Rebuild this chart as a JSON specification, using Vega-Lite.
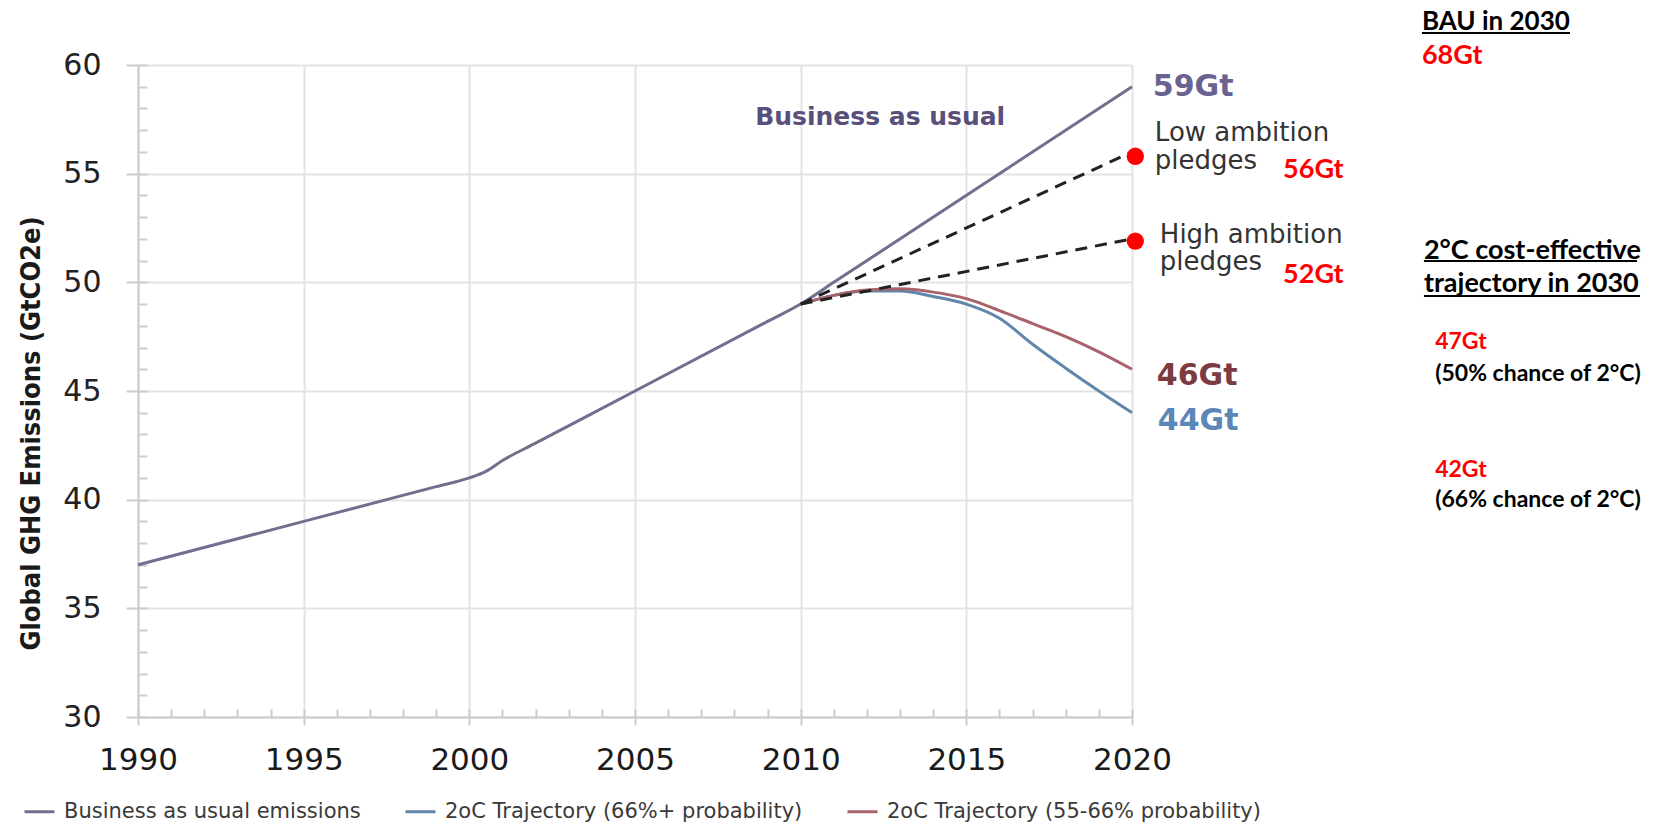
{
  "$schema": "https://vega.github.io/schema/vega-lite/v6.json",
  "width": 994,
  "height": 652,
  "autosize": "none",
  "padding": {"left": 138, "top": 65, "right": 534, "bottom": 110},
  "background": "white",
  "config": {"view": {"stroke": null}, "font": "Open Sans"},
  "datasets": {
    "lines": [
      {"series": "Business as usual emissions", "year": 1990, "value": 37.0},
      {"series": "Business as usual emissions", "year": 1995, "value": 39.0},
      {"series": "Business as usual emissions", "year": 1999, "value": 40.6},
      {"series": "Business as usual emissions", "year": 2000, "value": 41.0},
      {"series": "Business as usual emissions", "year": 2000.5, "value": 41.3},
      {"series": "Business as usual emissions", "year": 2001, "value": 41.8},
      {"series": "Business as usual emissions", "year": 2002, "value": 42.6},
      {"series": "Business as usual emissions", "year": 2005, "value": 45.0},
      {"series": "Business as usual emissions", "year": 2009, "value": 48.2},
      {"series": "Business as usual emissions", "year": 2010, "value": 49.0},
      {"series": "Business as usual emissions", "year": 2011, "value": 50.0},
      {"series": "Business as usual emissions", "year": 2020, "value": 59.0},
      {"series": "2oC Trajectory (66%+ probability)", "year": 2010, "value": 49.0},
      {"series": "2oC Trajectory (66%+ probability)", "year": 2011, "value": 49.4},
      {"series": "2oC Trajectory (66%+ probability)", "year": 2012, "value": 49.6},
      {"series": "2oC Trajectory (66%+ probability)", "year": 2013, "value": 49.6},
      {"series": "2oC Trajectory (66%+ probability)", "year": 2014, "value": 49.35},
      {"series": "2oC Trajectory (66%+ probability)", "year": 2015, "value": 49.0},
      {"series": "2oC Trajectory (66%+ probability)", "year": 2016, "value": 48.35},
      {"series": "2oC Trajectory (66%+ probability)", "year": 2017, "value": 47.15},
      {"series": "2oC Trajectory (66%+ probability)", "year": 2018, "value": 46.05},
      {"series": "2oC Trajectory (66%+ probability)", "year": 2019, "value": 45.0},
      {"series": "2oC Trajectory (66%+ probability)", "year": 2020, "value": 44.0},
      {"series": "2oC Trajectory (55-66% probability)", "year": 2010, "value": 49.0},
      {"series": "2oC Trajectory (55-66% probability)", "year": 2011, "value": 49.4},
      {"series": "2oC Trajectory (55-66% probability)", "year": 2012, "value": 49.65},
      {"series": "2oC Trajectory (55-66% probability)", "year": 2013, "value": 49.7},
      {"series": "2oC Trajectory (55-66% probability)", "year": 2014, "value": 49.55},
      {"series": "2oC Trajectory (55-66% probability)", "year": 2015, "value": 49.25},
      {"series": "2oC Trajectory (55-66% probability)", "year": 2016, "value": 48.7},
      {"series": "2oC Trajectory (55-66% probability)", "year": 2017, "value": 48.1},
      {"series": "2oC Trajectory (55-66% probability)", "year": 2018, "value": 47.5},
      {"series": "2oC Trajectory (55-66% probability)", "year": 2019, "value": 46.8},
      {"series": "2oC Trajectory (55-66% probability)", "year": 2020, "value": 46.0}
    ],
    "pledges": [
      {"pledge": "Low ambition", "year": 2010, "value": 49.0},
      {"pledge": "Low ambition", "year": 2020, "value": 56.0},
      {"pledge": "High ambition", "year": 2010, "value": 49.0},
      {"pledge": "High ambition", "year": 2020, "value": 52.0}
    ],
    "dots": [
      {"pledge": "Low ambition", "year": 2020.1, "value": 55.8},
      {"pledge": "High ambition", "year": 2020.1, "value": 51.9}
    ],
    "labels": [
      {"label": "Business as usual", "kind": "bautitle", "year": 2012.4, "value": 57.24},
      {"label": "59Gt", "kind": "endbau", "year": 2020.63, "value": 58.57},
      {"label": "46Gt", "kind": "endred", "year": 2020.75, "value": 45.28},
      {"label": "44Gt", "kind": "endblue", "year": 2020.78, "value": 43.21},
      {"label": "Low ambition", "kind": "pledge", "year": 2020.69, "value": 56.5},
      {"label": "pledges", "kind": "pledge", "year": 2020.69, "value": 55.21},
      {"label": "High ambition", "kind": "pledge", "year": 2020.84, "value": 51.81},
      {"label": "pledges", "kind": "pledge", "year": 2020.84, "value": 50.57},
      {"label": "56Gt", "kind": "redbig", "year": 2024.56, "value": 54.82},
      {"label": "52Gt", "kind": "redbig", "year": 2024.56, "value": 49.96},
      {"label": "68Gt", "kind": "redbig", "year": 2028.75, "value": 60.05},
      {"label": "BAU in 2030", "kind": "head", "year": 2028.75, "value": 61.61},
      {"label": "2°C cost-effective", "kind": "head2", "year": 2028.81, "value": 51.07},
      {"label": "trajectory in 2030", "kind": "head2", "year": 2028.81, "value": 49.55},
      {"label": "47Gt", "kind": "redsmall", "year": 2029.15, "value": 46.93},
      {"label": "(50% chance of 2°C)", "kind": "note", "year": 2029.15, "value": 45.46},
      {"label": "42Gt", "kind": "redsmall", "year": 2029.15, "value": 41.04},
      {"label": "(66% chance of 2°C)", "kind": "note", "year": 2029.15, "value": 39.66}
    ],
    "underlines": [
      {"year": 2028.75, "year2": 2033.22, "value": 61.47},
      {"year": 2028.81, "year2": 2035.24, "value": 50.98},
      {"year": 2028.81, "year2": 2035.33, "value": 49.37}
    ]
  },
  "layer": [
    {
      "encoding": {
        "x": {
          "field": "year", "type": "quantitative",
          "scale": {"domain": [1990, 2020], "nice": false, "zero": false},
          "axis": {
            "title": null, "format": "d", "values": [1990, 1995, 2000, 2005, 2010, 2015, 2020],
            "labelFlush": false,
            "grid": true, "gridColor": "#e3e3e3", "gridWidth": 2,
            "domainColor": "#cccccc", "domainWidth": 2,
            "tickColor": "#cccccc", "tickWidth": 2, "tickSize": 8,
            "labelFont": "DejaVu Sans", "labelFontSize": 31, "labelColor": "#1a1a1a",
            "labelPadding": 20
          }
        },
        "y": {
          "field": "value", "type": "quantitative",
          "scale": {"domain": [30, 60], "nice": false, "zero": false},
          "axis": {
            "title": "Global GHG Emissions (GtCO2e)",
            "values": [30, 35, 40, 45, 50, 55, 60],
            "labelFlush": false,
            "grid": true, "gridColor": "#e3e3e3", "gridWidth": 2,
            "domainColor": "#cccccc", "domainWidth": 2,
            "tickColor": "#cccccc", "tickWidth": 2, "tickSize": 12,
            "labelFont": "DejaVu Sans", "labelFontSize": 30, "labelColor": "#222222",
            "labelPadding": 25,
            "titleFont": "DejaVu Sans Condensed", "titleFontWeight": "bold", "titleFontSize": 27,
            "titleColor": "#1a1a1a", "titleX": -93, "titleY": 368, "titleBaseline": "bottom", "titleAlign": "center"
          }
        }
      },
      "layer": [
        {
          "data": {"name": "lines"},
          "mark": {"type": "line", "strokeWidth": 3, "interpolate": "monotone"},
          "encoding": {
            "color": {
              "field": "series", "type": "nominal",
              "scale": {
                "domain": ["Business as usual emissions", "2oC Trajectory (66%+ probability)", "2oC Trajectory (55-66% probability)"],
                "range": ["#736d8e", "#6086ab", "#a8636b"]
              },
              "legend": {
                "title": null, "orient": "none", "legendX": -115, "legendY": 730,
                "direction": "horizontal", "symbolType": "stroke", "symbolSize": 900,
                "symbolStrokeWidth": 3, "labelFont": "DejaVu Sans", "labelFontSize": 21,
                "labelColor": "#3a3a3a", "labelOffset": 8, "columnPadding": 38,
                "labelLimit": 600
              }
            }
          }
        },
        {
          "data": {"name": "pledges"},
          "mark": {"type": "line", "strokeWidth": 3, "color": "#222222", "strokeDash": [12, 8]},
          "encoding": {"detail": {"field": "pledge", "type": "nominal"}}
        },
        {
          "data": {"name": "dots"},
          "mark": {"type": "circle", "size": 300, "color": "#ff0000", "opacity": 1}
        },
        {
          "data": {"name": "underlines"},
          "mark": {"type": "rule", "strokeWidth": 2, "color": "#000000"},
          "encoding": {"x2": {"field": "year2"}}
        },
        {
          "data": {"name": "labels"},
          "transform": [{"filter": "datum.kind == 'bautitle'"}],
          "mark": {"type": "text", "align": "center", "baseline": "alphabetic", "font": "DejaVu Sans", "fontWeight": "bold", "fontSize": 25, "color": "#58507a"},
          "encoding": {"text": {"field": "label"}}
        },
        {
          "data": {"name": "labels"},
          "transform": [{"filter": "datum.kind == 'endbau'"}],
          "mark": {"type": "text", "align": "left", "baseline": "alphabetic", "font": "DejaVu Sans", "fontWeight": "bold", "fontSize": 30, "color": "#6a6392"},
          "encoding": {"text": {"field": "label"}}
        },
        {
          "data": {"name": "labels"},
          "transform": [{"filter": "datum.kind == 'endred'"}],
          "mark": {"type": "text", "align": "left", "baseline": "alphabetic", "font": "DejaVu Sans", "fontWeight": "bold", "fontSize": 30, "color": "#7b3b40"},
          "encoding": {"text": {"field": "label"}}
        },
        {
          "data": {"name": "labels"},
          "transform": [{"filter": "datum.kind == 'endblue'"}],
          "mark": {"type": "text", "align": "left", "baseline": "alphabetic", "font": "DejaVu Sans", "fontWeight": "bold", "fontSize": 30, "color": "#5b87b8"},
          "encoding": {"text": {"field": "label"}}
        },
        {
          "data": {"name": "labels"},
          "transform": [{"filter": "datum.kind == 'pledge'"}],
          "mark": {"type": "text", "align": "left", "baseline": "alphabetic", "font": "DejaVu Sans", "fontSize": 26, "color": "#333333"},
          "encoding": {"text": {"field": "label"}}
        },
        {
          "data": {"name": "labels"},
          "transform": [{"filter": "datum.kind == 'redbig'"}],
          "mark": {"type": "text", "align": "left", "baseline": "alphabetic", "font": "Lato", "fontWeight": "bold", "fontSize": 27, "color": "#ff0000"},
          "encoding": {"text": {"field": "label"}}
        },
        {
          "data": {"name": "labels"},
          "transform": [{"filter": "datum.kind == 'head'"}],
          "mark": {"type": "text", "align": "left", "baseline": "alphabetic", "font": "Lato", "fontWeight": "bold", "fontSize": 26, "color": "#000000"},
          "encoding": {"text": {"field": "label"}}
        },
        {
          "data": {"name": "labels"},
          "transform": [{"filter": "datum.kind == 'head2'"}],
          "mark": {"type": "text", "align": "left", "baseline": "alphabetic", "font": "Lato", "fontWeight": "bold", "fontSize": 27, "color": "#000000"},
          "encoding": {"text": {"field": "label"}}
        },
        {
          "data": {"name": "labels"},
          "transform": [{"filter": "datum.kind == 'redsmall'"}],
          "mark": {"type": "text", "align": "left", "baseline": "alphabetic", "font": "Lato", "fontWeight": "bold", "fontSize": 23, "color": "#ff0000"},
          "encoding": {"text": {"field": "label"}}
        },
        {
          "data": {"name": "labels"},
          "transform": [{"filter": "datum.kind == 'note'"}],
          "mark": {"type": "text", "align": "left", "baseline": "alphabetic", "font": "Lato", "fontWeight": "bold", "fontSize": 23, "color": "#000000"},
          "encoding": {"text": {"field": "label"}}
        }
      ]
    },
    {
      "data": {"name": "lines"},
      "mark": {"type": "line", "opacity": 0},
      "encoding": {
        "x": {
          "field": "year", "type": "quantitative",
          "scale": {"domain": [1990, 2020], "nice": false, "zero": false},
          "axis": {"orient": "bottom", "title": null, "labels": false, "grid": false, "domain": false,
                   "tickCount": 30, "tickColor": "#cccccc", "tickWidth": 2, "tickSize": -8}
        },
        "y": {
          "field": "value", "type": "quantitative",
          "scale": {"domain": [30, 60], "nice": false, "zero": false},
          "axis": {"orient": "left", "title": null, "labels": false, "grid": false, "domain": false,
                   "tickCount": 30, "tickColor": "#cccccc", "tickWidth": 2, "tickSize": -9}
        }
      }
    }
  ],
  "resolve": {"axis": {"x": "independent", "y": "independent"}}
}
